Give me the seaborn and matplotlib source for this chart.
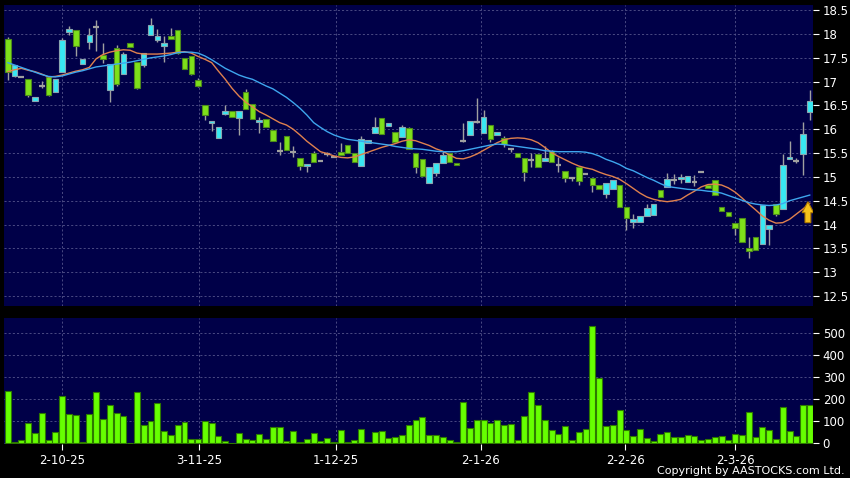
import numpy as np
import pandas as pd
import matplotlib
matplotlib.use("Agg")
import matplotlib.pyplot as plt
from matplotlib.patches import FancyArrow
import seaborn as sns

# daily candles, oldest first (HKD)
opens = [17.90, 17.12, 17.10, 17.06, 16.60, 16.91, 17.09, 16.78, 17.21, 18.04,
         18.08, 17.37, 17.83, 18.14, 17.55, 16.83, 17.70, 17.16, 17.81, 17.42,
         17.35, 17.98, 17.88, 17.74, 17.95, 18.08, 17.49, 17.53, 17.04, 16.50,
         16.14, 15.81, 16.33, 16.39, 16.24, 16.78, 16.53, 16.15, 16.21, 15.99,
         15.54, 15.86, 15.53, 15.39, 15.24, 15.50, 15.33, 15.48, 15.42, 15.53,
         15.66, 15.50, 15.23, 15.72, 15.93, 16.23, 16.07, 15.95, 15.84, 16.02,
         15.51, 15.37, 14.87, 15.09, 15.30, 15.51, 15.30, 15.76, 15.87, 16.16,
         15.92, 16.10, 15.88, 15.81, 15.58, 15.50, 15.39, 15.36, 15.48, 15.34,
         15.55, 15.26, 15.13, 14.97, 15.20, 15.06, 14.97, 14.84, 14.65, 14.74,
         14.84, 14.36, 14.06, 14.06, 14.18, 14.21, 14.72, 14.79, 14.93, 14.95,
         14.90, 14.90, 15.11, 14.84, 14.93, 14.37, 14.27, 14.04, 14.13, 13.50,
         13.74, 13.60, 13.90, 14.44, 14.32, 15.37, 15.33, 15.49, 16.36]
highs = [17.94, 17.36, 17.10, 17.06, 16.67, 17.02, 17.09, 17.05, 17.92, 18.17,
         18.08, 17.47, 18.12, 18.30, 17.81, 17.37, 17.76, 17.62, 17.81, 17.42,
         17.60, 18.33, 18.11, 17.96, 18.12, 18.08, 17.49, 17.53, 17.07, 16.50,
         16.18, 16.04, 16.51, 16.39, 16.39, 16.84, 16.53, 16.26, 16.21, 15.99,
         15.73, 15.86, 15.64, 15.39, 15.28, 15.55, 15.33, 15.52, 15.42, 15.71,
         15.66, 15.50, 15.85, 15.77, 16.25, 16.23, 16.13, 15.95, 16.09, 16.05,
         15.51, 15.37, 15.20, 15.30, 15.55, 15.51, 15.30, 16.13, 16.18, 16.65,
         16.40, 16.10, 15.94, 15.85, 15.58, 15.50, 15.39, 15.50, 15.48, 15.65,
         15.56, 15.42, 15.13, 14.97, 15.20, 15.06, 14.97, 14.84, 14.88, 14.93,
         14.84, 14.36, 14.23, 14.18, 14.43, 14.44, 14.72, 15.09, 15.06, 15.06,
         15.03, 15.05, 15.11, 14.84, 14.93, 14.37, 14.27, 14.04, 14.13, 13.74,
         13.74, 14.42, 14.00, 14.44, 15.49, 15.75, 15.40, 16.16, 16.83]
lows = [17.03, 17.10, 17.10, 16.67, 16.60, 16.86, 16.70, 16.78, 17.21, 17.98,
        17.53, 17.37, 17.68, 17.64, 17.39, 16.57, 16.90, 17.16, 17.72, 16.84,
        17.30, 17.98, 17.84, 17.42, 17.89, 17.58, 17.26, 17.13, 16.88, 16.20,
        15.97, 15.81, 16.30, 16.26, 15.87, 16.42, 16.22, 15.92, 16.04, 15.75,
        15.46, 15.57, 15.42, 15.14, 15.11, 15.32, 15.33, 15.44, 15.42, 15.47,
        15.51, 15.32, 15.23, 15.72, 15.93, 15.90, 16.07, 15.74, 15.84, 15.58,
        15.08, 15.02, 14.87, 15.02, 15.30, 15.31, 15.26, 15.74, 15.87, 16.14,
        15.92, 15.74, 15.88, 15.62, 15.53, 15.41, 14.91, 15.21, 15.21, 15.34,
        15.32, 15.11, 14.90, 14.92, 14.83, 15.06, 14.68, 14.74, 14.55, 14.74,
        14.36, 13.88, 13.92, 14.06, 14.18, 14.21, 14.58, 14.79, 14.85, 14.88,
        14.90, 14.82, 15.11, 14.76, 14.62, 14.28, 14.18, 13.78, 13.64, 13.29,
        13.46, 13.60, 13.58, 14.17, 14.32, 15.37, 15.30, 15.05, 16.20]
closes = [17.20, 17.34, 17.10, 16.72, 16.67, 16.91, 16.73, 17.05, 17.88, 18.10,
          17.74, 17.47, 17.99, 18.14, 17.47, 17.37, 16.95, 17.58, 17.72, 16.87,
          17.60, 18.19, 17.95, 17.81, 17.89, 17.60, 17.26, 17.17, 16.91, 16.29,
          16.18, 16.04, 16.38, 16.26, 16.39, 16.42, 16.22, 16.20, 16.04, 15.75,
          15.54, 15.57, 15.53, 15.24, 15.28, 15.32, 15.33, 15.48, 15.42, 15.47,
          15.51, 15.32, 15.79, 15.77, 16.04, 15.90, 16.13, 15.74, 16.05, 15.58,
          15.20, 15.02, 15.20, 15.30, 15.46, 15.31, 15.26, 15.76, 16.18, 16.16,
          16.26, 15.79, 15.94, 15.69, 15.58, 15.41, 15.11, 15.36, 15.21, 15.39,
          15.32, 15.26, 14.97, 14.97, 14.92, 15.06, 14.84, 14.74, 14.88, 14.93,
          14.36, 14.13, 14.11, 14.18, 14.34, 14.44, 14.58, 14.95, 14.93, 14.99,
          15.03, 14.90, 15.11, 14.76, 14.62, 14.28, 14.18, 13.92, 13.64, 13.44,
          13.46, 14.42, 14.00, 14.22, 15.25, 15.42, 15.33, 15.90, 16.59]
# volume in thousands of shares
volumes = [238, 5, 14, 94, 46, 140, 14, 52, 217, 134,
           131, 5, 135, 231, 109, 175, 137, 125, 2, 234,
           85, 103, 185, 55, 37, 82, 97, 18, 18, 103,
           94, 34, 12, 1, 49, 20, 17, 42, 20, 75,
           75, 12, 55, 6, 18, 45, 11, 23, 5, 62,
           6, 14, 63, 6, 51, 57, 25, 29, 40, 85,
           106, 120, 40, 38, 29, 15, 8, 188, 71, 105,
           106, 94, 105, 85, 86, 14, 123, 231, 175, 106,
           62, 42, 78, 17, 51, 65, 535, 295, 79, 82,
           150, 59, 33, 65, 26, 11, 42, 53, 30, 30,
           39, 32, 17, 21, 30, 33, 17, 44, 38, 142,
           27, 74, 62, 20, 167, 58, 33, 173, 174]
# moving averages as drawn (orange = 10 day, blue = 20 day)
ma10 = [17.21, 17.25, 17.28, 17.24, 17.21, 17.16, 17.10, 17.11, 17.14, 17.18,
        17.22, 17.25, 17.30, 17.48, 17.57, 17.62, 17.65, 17.67, 17.66, 17.60,
        17.58, 17.58, 17.58, 17.59, 17.60, 17.62, 17.63, 17.60, 17.53, 17.47,
        17.40, 17.22, 17.05, 16.86, 16.70, 16.57, 16.47, 16.37, 16.30, 16.22,
        16.14, 16.09, 16.00, 15.88, 15.75, 15.64, 15.53, 15.49, 15.44, 15.41,
        15.40, 15.42, 15.47, 15.52, 15.57, 15.62, 15.66, 15.70, 15.75, 15.78,
        15.76, 15.71, 15.66, 15.59, 15.54, 15.46, 15.39, 15.38, 15.42, 15.48,
        15.56, 15.64, 15.72, 15.78, 15.81, 15.82, 15.81, 15.78, 15.72, 15.62,
        15.51, 15.43, 15.36, 15.29, 15.23, 15.19, 15.16, 15.10, 15.05, 15.01,
        14.95, 14.86, 14.76, 14.66, 14.58, 14.53, 14.50, 14.48, 14.50, 14.53,
        14.62, 14.70, 14.79, 14.84, 14.85, 14.83, 14.77, 14.68, 14.56, 14.43,
        14.31, 14.18, 14.09, 14.03, 14.04, 14.11, 14.22, 14.33, 14.45]
ma20 = [17.40, 17.35, 17.30, 17.25, 17.20, 17.15, 17.11, 17.10, 17.12, 17.16,
        17.20, 17.23, 17.27, 17.31, 17.33, 17.35, 17.37, 17.39, 17.41, 17.44,
        17.47, 17.50, 17.52, 17.54, 17.57, 17.61, 17.62, 17.62, 17.60, 17.54,
        17.46, 17.37, 17.28, 17.21, 17.14, 17.09, 17.05, 16.98, 16.91, 16.85,
        16.76, 16.67, 16.56, 16.44, 16.30, 16.14, 16.04, 15.95, 15.88, 15.83,
        15.79, 15.77, 15.75, 15.73, 15.71, 15.69, 15.67, 15.64, 15.62, 15.60,
        15.59, 15.58, 15.56, 15.54, 15.53, 15.53, 15.53, 15.55, 15.58, 15.61,
        15.64, 15.67, 15.69, 15.68, 15.66, 15.64, 15.62, 15.60, 15.58, 15.55,
        15.54, 15.53, 15.53, 15.53, 15.53, 15.52, 15.49, 15.44, 15.37, 15.32,
        15.26, 15.18, 15.13, 15.06, 14.99, 14.93, 14.86, 14.80, 14.78, 14.76,
        14.74, 14.73, 14.72, 14.70, 14.69, 14.66, 14.61, 14.56, 14.51, 14.46,
        14.43, 14.41, 14.40, 14.41, 14.44, 14.50, 14.54, 14.58, 14.62]

tick_pos = [8.0, 28.2, 48.3, 69.6, 90.8, 107.0]
tick_labels = ["2-10-25", "3-11-25", "1-12-25", "2-1-26", "2-2-26", "2-3-26"]
price_ticks = [12.5, 13, 13.5, 14, 14.5, 15, 15.5, 16, 16.5, 17, 17.5, 18, 18.5]
vol_ticks = [0, 100, 200, 300, 400, 500]

NAVY = "#000048"
GRID = "#55558c"
UP = "#38e8f2"
UP_EDGE = "#8aa6b0"
DOWN = "#7ee01a"
DOWN_EDGE = "#4c8a1c"
WICK = "#a0a0a0"

sns.set_theme(style="dark")
plt.rcParams["font.family"] = ["DejaVu Sans"]

df = pd.DataFrame({"o": opens, "h": highs, "l": lows, "c": closes,
                   "vol": volumes, "ma10": ma10, "ma20": ma20})
df["i"] = np.arange(len(df))

fig = plt.figure(figsize=(8.5, 4.78), dpi=100, facecolor="black")
ax = fig.add_axes([4 / 850, 172 / 478, 809 / 850, 301 / 478])
axv = fig.add_axes([4 / 850, 34 / 478, 809 / 850, 125.7 / 478])

for a in (ax, axv):
    a.set_facecolor(NAVY)
    for s in a.spines.values():
        s.set_visible(False)
    a.grid(True, color=GRID, linestyle=(0, (2.5, 2.5)), linewidth=0.6)
    a.set_axisbelow(True)
    a.set_xlim(-0.55, len(df) - 0.55)
    a.set_xticks(tick_pos)
    a.yaxis.tick_right()
    a.tick_params(axis="y", right=True, left=False, labelright=True, labelleft=False,
                  colors="white", length=4, width=0.8, labelsize=8.5, pad=3)

# candles
up = df[df.c > df.o]
down = df[df.c < df.o]
flat = df[df.c == df.o]
ax.vlines(df.i, df.l, df.h, color=WICK, linewidth=1, zorder=2)
ax.bar(up.i, up.c - up.o, bottom=up.o, width=0.82, color=UP,
       edgecolor=UP_EDGE, linewidth=0.8, zorder=3)
ax.bar(down.i, down.o - down.c, bottom=down.c, width=0.82, color=DOWN,
       edgecolor=DOWN_EDGE, linewidth=0.8, zorder=3)
ax.hlines(flat.c, flat.i - 0.42, flat.i + 0.42, color=WICK, linewidth=1.6, zorder=3)

sns.lineplot(data=df, x="i", y="ma10", ax=ax, color="#e0814e", linewidth=1, zorder=4)
sns.lineplot(data=df, x="i", y="ma20", ax=ax, color="#3ea6ee", linewidth=1, zorder=4)

ax.set_ylim(12.29, 18.61)
ax.set_yticks(price_ticks)
ax.set_yticklabels([f"{t:g}" for t in price_ticks])
ax.tick_params(axis="x", bottom=False, labelbottom=False)
ax.set_xlabel("")
ax.set_ylabel("")

# up arrow on the last bar
last = len(df) - 1
ax.add_patch(FancyArrow(last - 0.3, 14.04, 0, 0.44, width=0.85, head_width=1.7,
                        head_length=0.23, length_includes_head=True,
                        facecolor="#f7c21a", edgecolor="#b07a00", linewidth=0.8, zorder=6))

# volume
sns.barplot(data=df, x="i", y="vol", ax=axv, native_scale=True, width=0.88,
            color="#66ff00", edgecolor="#2e7a00", linewidth=0.8, saturation=1, zorder=3)
axv.set_xlim(-0.55, len(df) - 0.55)
axv.set_ylim(-3, 568)
axv.set_yticks(vol_ticks)
axv.set_xticks(tick_pos)
axv.set_xticklabels(tick_labels)
axv.tick_params(axis="x", bottom=True, colors="white", length=4, width=0.8,
                labelsize=8.5, pad=3)
axv.set_xlabel("")
axv.set_ylabel("")

fig.text(845 / 850, 6.5 / 478, "Copyright by AASTOCKS.com Ltd.", ha="right", va="center",
         color="white", fontsize=8)

fig.savefig("out.png", dpi=100, facecolor="black")
